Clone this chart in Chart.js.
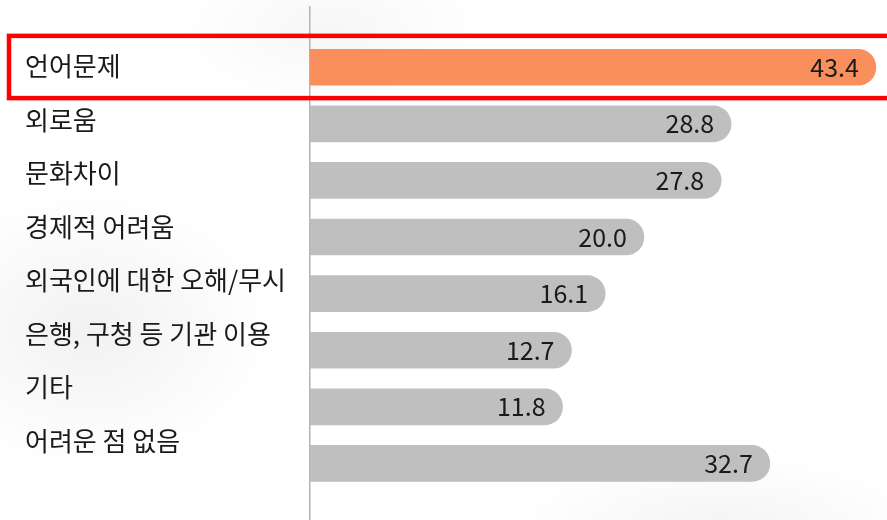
<!DOCTYPE html>
<html>
<head>
<meta charset="utf-8">
<script src="https://cdn.jsdelivr.net/npm/chart.js@4/dist/chart.umd.min.js"></script>
<style>
  html, body { margin: 0; padding: 0; }
  body {
    width: 887px; height: 520px; overflow: hidden;
    background:
      radial-gradient(ellipse 260px 200px at 90px 330px, rgba(228,228,231,0.5), rgba(255,255,255,0) 70%),
      radial-gradient(ellipse 300px 110px at 720px 530px, rgba(230,230,232,0.45), rgba(255,255,255,0) 70%),
      radial-gradient(ellipse 220px 110px at 330px 30px, rgba(236,236,236,0.45), rgba(255,255,255,0) 70%),
      #ffffff;
  }
  #wrap { position: relative; width: 887px; height: 520px; }
</style>
</head>
<body>
<div id="wrap"><canvas id="c" width="887" height="520"></canvas></div>
<script>
// ---- data ----
const categories = ['언어문제', '외로움', '문화차이', '경제적 어려움', '외국인에 대한 오해/무시', '은행, 구청 등 기관 이용', '기타', '어려운 점 없음'];
const values = [43.4, 28.8, 27.8, 20.0, 16.1, 12.7, 11.8, 32.7];
const highlightIndex = 0;

// ---- styles ----
const ORANGE = '#F98F5D';
const GRAY = '#BFBFBF';
const FONT = "'Noto Sans CJK KR', 'Noto Sans', sans-serif";
const X_MIN = -13.67, X_MAX = 44.32;

const barData = values.map((v, i) => ({ x: v, y: i }));
const colors = values.map((v, i) => i === highlightIndex ? ORANGE : GRAY);

const valueLabels = {
  id: 'valueLabels',
  afterDatasetsDraw(chart) {
    const ctx = chart.ctx;
    const meta = chart.getDatasetMeta(0);
    ctx.save();
    ctx.font = '25px ' + FONT;
    ctx.fillStyle = '#1a1a1a';
    ctx.textAlign = 'right';
    ctx.textBaseline = 'middle';
    meta.data.forEach((bar, i) => {
      ctx.fillText(values[i].toFixed(1), bar.x - 17, bar.y);
    });
    ctx.restore();
  }
};

const highlightBox = {
  id: 'highlightBox',
  afterDraw(chart) {
    const ys = chart.scales.y;
    const lab = chart.scales.yl;
    const ctx = chart.ctx;
    const top = ys.getPixelForValue(highlightIndex - 0.555);
    const bottom = ys.getPixelForValue(highlightIndex + 0.545);
    const left = lab.left - 16;
    const right = chart.width + 10;
    ctx.save();
    ctx.strokeStyle = '#FF0000';
    ctx.lineWidth = 4.5;
    ctx.strokeRect(left, top, right - left, bottom - top);
    ctx.restore();
  }
};

function noPad(scale) {
  scale.paddingTop = 0;
  scale.paddingBottom = 0;
}

new Chart(document.getElementById('c'), {
  type: 'bar',
  data: {
    datasets: [{
      data: barData,
      backgroundColor: colors,
      borderWidth: 0,
      borderRadius: 18,
      borderSkipped: 'start',
      barThickness: 36,
      base: X_MIN
    }]
  },
  options: {
    indexAxis: 'y',
    responsive: false,
    animation: false,
    events: [],
    layout: { padding: { left: 25, right: 2, top: 7, bottom: 0 } },
    plugins: { legend: { display: false }, tooltip: { enabled: false } },
    scales: {
      x: {
        type: 'linear',
        min: X_MIN, max: X_MAX,
        display: false
      },
      y: {
        type: 'linear',
        position: 'left',
        reverse: true,
        offset: false,
        min: -1.065, max: 8.0,
        weight: 0,
        grid: { display: false, drawTicks: false, offset: false },
        ticks: { display: false },
        border: { display: true, color: '#B4B4B4', width: 1.5 },
        afterFit: noPad
      },
      yl: {
        type: 'linear',
        position: 'left',
        reverse: true,
        offset: false,
        min: -1.112, max: 8.477,
        weight: 1,
        grid: { display: false, drawTicks: false, offset: false },
        border: { display: false },
        afterBuildTicks(scale) {
          scale.ticks = categories.map((c, i) => ({ value: i }));
        },
        afterFit(scale) { scale.width = 285; noPad(scale); },
        ticks: {
          crossAlign: 'far',
          padding: 0,
          color: '#1a1a1a',
          font: { family: FONT, size: 26 },
          autoSkip: false,
          callback: (v) => categories[v]
        }
      }
    }
  },
  plugins: [valueLabels, highlightBox]
});
</script>
</body>
</html>
